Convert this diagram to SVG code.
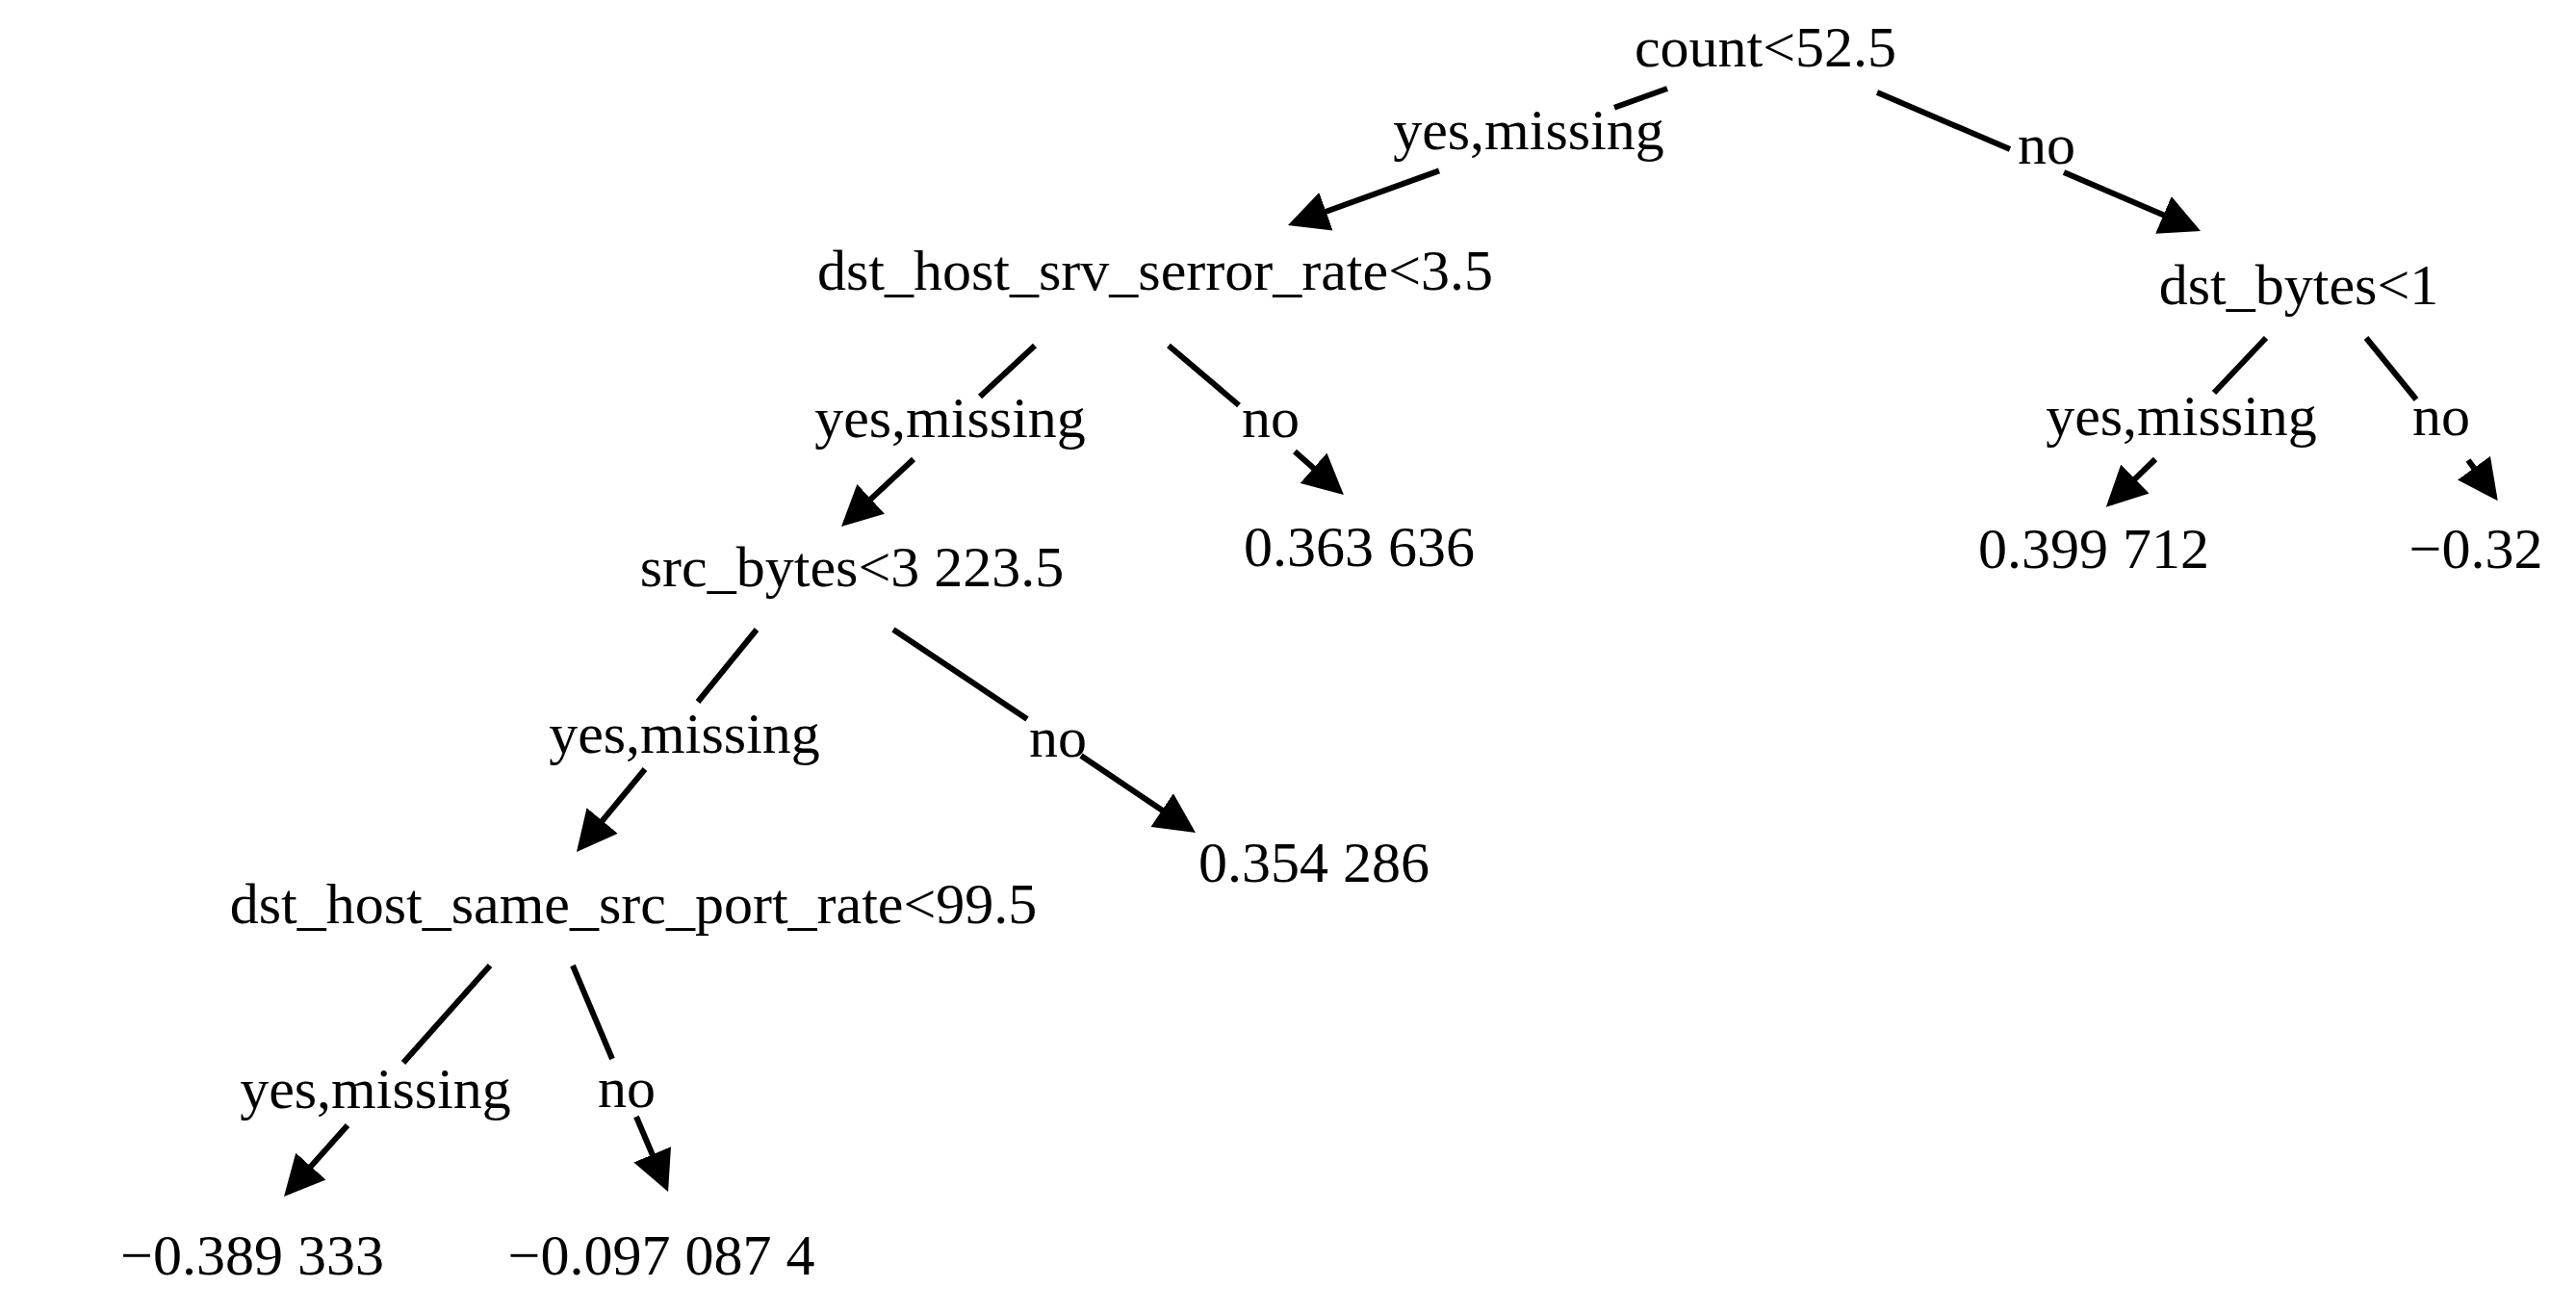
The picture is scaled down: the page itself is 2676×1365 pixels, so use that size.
<svg xmlns="http://www.w3.org/2000/svg" width="2676" height="1365" viewBox="0 0 2676 1365">
<style>
text { font-family: "Liberation Serif", "Times New Roman", serif; font-size: 60px; fill: #000; text-anchor: middle; }
.edge { fill: none; stroke: #000; stroke-width: 6; marker-end: url(#arrow); }
</style>
<defs>
<marker id="arrow" markerUnits="userSpaceOnUse" viewBox="0 0 42 42" markerWidth="42" markerHeight="42" refX="36" refY="21" orient="auto">
<path d="M0,0 L42,21 L0,42 z" fill="#000"/>
</marker>
</defs>
<rect width="2676" height="1365" fill="#fff"/>
<g id="connectors">
<g id="e-count-srv"><path class="edge" d="M1732,92 L1677,111.8 M1495,177.4 L1343.6,232"/><text x="1588" y="155">yes,missing</text></g>
<g id="e-count-dstbytes"><path class="edge" d="M1950,96 L2088,155 M2144,179 L2280.5,237.6"/><text x="2126" y="170">no</text></g>
<g id="e-srv-src"><path class="edge" d="M1075,359 L1018,412 M949,477 L878.4,542.9"/><text x="987" y="454">yes,missing</text></g>
<g id="e-srv-leaf1"><path class="edge" d="M1214,359 L1287,421 M1345,469 L1391.4,510.1"/><text x="1320" y="454">no</text></g>
<g id="e-dstbytes-leaf2"><path class="edge" d="M2354,351 L2300,408 M2239,477 L2192.1,522.6"/><text x="2266" y="452">yes,missing</text></g>
<g id="e-dstbytes-leaf3"><path class="edge" d="M2458,351 L2510,415 M2564,478 L2591.2,515.3"/><text x="2536" y="452">no</text></g>
<g id="e-src-same"><path class="edge" d="M786,654 L725,729 M670,799 L602.8,880.3"/><text x="711" y="782">yes,missing</text></g>
<g id="e-src-leaf4"><path class="edge" d="M928,654 L1067,747 M1123,785 L1237,861.7"/><text x="1099" y="786">no</text></g>
<g id="e-same-leaf5"><path class="edge" d="M509,1003 L419,1104 M361,1169 L299,1238.5"/><text x="390" y="1151">yes,missing</text></g>
<g id="e-same-leaf6"><path class="edge" d="M595,1003 L636,1100 M661,1160 L691.7,1232.5"/><text x="651" y="1150">no</text></g>
</g>
<g id="n-count"><text x="1834" y="69">count&lt;52.5</text></g>
<g id="n-srv"><text x="1200" y="301">dst_host_srv_serror_rate&lt;3.5</text></g>
<g id="n-dstbytes"><text x="2388" y="316">dst_bytes&lt;1</text></g>
<g id="n-src"><text x="885" y="609">src_bytes&lt;3 223.5</text></g>
<g id="n-leaf1"><text x="1412" y="588">0.363 636</text></g>
<g id="n-leaf2"><text x="2175" y="590">0.399 712</text></g>
<g id="n-leaf3"><text x="2572" y="590">−0.32</text></g>
<g id="n-leaf4"><text x="1365" y="916">0.354 286</text></g>
<g id="n-same"><text x="658" y="959">dst_host_same_src_port_rate&lt;99.5</text></g>
<g id="n-leaf5"><text x="262" y="1324">−0.389 333</text></g>
<g id="n-leaf6"><text x="687" y="1324">−0.097 087 4</text></g>
</svg>
